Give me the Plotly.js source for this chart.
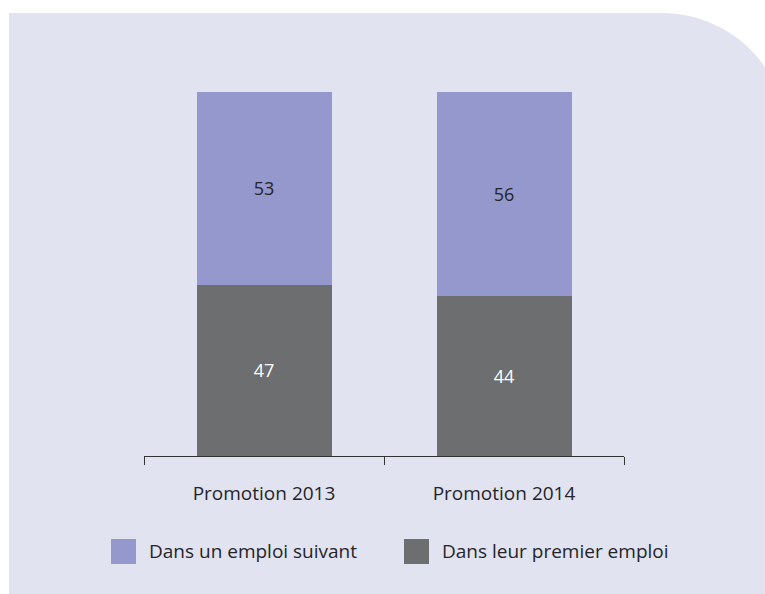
<!DOCTYPE html>
<html>
<head>
<meta charset="utf-8">
<script src="https://cdn.plot.ly/plotly-3.0.1.min.js"></script>
<style>html,body{margin:0;padding:0;background:#fff;}#chart{width:765px;height:594px;}</style>
</head>
<body>
<div id="chart"></div>
<script>
// Data
const categories = ["Promotion 2013", "Promotion 2014"];
const seriesNames = ["Dans leur premier emploi", "Dans un emploi suivant"];
const premierEmploi = [47, 44];
const emploiSuivant = [53, 56];

const W = 765, H = 594;
const M = {l: 144, r: 141, t: 92, b: 138};
const PW = W - M.l - M.r, PH = H - M.t - M.b;
const px = x => (x - M.l) / PW;
const py = y => (H - M.b - y) / PH;

const FONT = "Open Sans";
const FS = 19;
const TXT = "#252528";
const C_GREY = "#6d6e70";
const C_LAV = "#9598cc";
const BG = "#e2e3f1";

const traces = [
  {type: "bar", x: categories, y: premierEmploi, name: seriesNames[0],
   marker: {color: C_GREY}, text: premierEmploi.map(String), textposition: "inside",
   insidetextanchor: "middle", textfont: {family: FONT, size: 18, color: "#ffffff"},
   hoverinfo: "skip"},
  {type: "bar", x: categories, y: emploiSuivant, name: seriesNames[1],
   marker: {color: C_LAV}, text: emploiSuivant.map(String), textposition: "inside",
   insidetextanchor: "middle", textfont: {family: FONT, size: 18, color: TXT},
   hoverinfo: "skip"}
];

// background panel with rounded top-right corner
const cr = 125, ccx = 662, pTop = 13, pLeft = 9, pRight = ccx + cr, kk = 0.5523 * cr;
const panelPath =
  `M ${px(pLeft)},${py(H + 5)} L ${px(pLeft)},${py(pTop)} L ${px(ccx)},${py(pTop)} ` +
  `C ${px(ccx + kk)},${py(pTop)} ${px(pRight)},${py(pTop + cr - kk)} ${px(pRight)},${py(pTop + cr)} ` +
  `L ${px(pRight)},${py(H + 5)} Z`;

const shapes = [
  {type: "path", xref: "paper", yref: "paper", path: panelPath, fillcolor: BG,
   line: {width: 0}, layer: "below"}
];

// manual legend
const legendItems = [
  {name: seriesNames[1], color: C_LAV, sq: 111, tx: 147},
  {name: seriesNames[0], color: C_GREY, sq: 404, tx: 440}
];
const annotations = [];
legendItems.forEach(it => {
  shapes.push({type: "rect", xref: "paper", yref: "paper",
    x0: px(it.sq), x1: px(it.sq + 25), y0: py(564), y1: py(539),
    fillcolor: it.color, line: {width: 0}, layer: "above"});
  annotations.push({xref: "paper", yref: "paper", x: px(it.tx), y: py(551),
    xanchor: "left", yanchor: "middle", showarrow: false, text: it.name,
    font: {family: FONT, size: FS, color: TXT}});
});

const layout = {
  width: W, height: H,
  margin: M,
  paper_bgcolor: "#ffffff",
  plot_bgcolor: "rgba(0,0,0,0)",
  barmode: "stack",
  bargap: 0.4375,
  showlegend: false,
  font: {family: FONT, size: FS, color: TXT},
  xaxis: {
    type: "category", range: [-0.5, 1.5], tickson: "boundaries",
    ticks: "outside", ticklen: 8, tickwidth: 1, tickcolor: "#333",
    showline: true, linecolor: "#333", linewidth: 1,
    showgrid: false, zeroline: false, fixedrange: true,
    tickfont: {family: FONT, size: FS, color: TXT}, ticklabelstandoff: 20
  },
  yaxis: {range: [0, 100], visible: false, showgrid: false, zeroline: false, fixedrange: true},
  shapes: shapes,
  annotations: annotations
};

Plotly.newPlot("chart", traces, layout, {displayModeBar: false, staticPlot: true});
</script>
</body>
</html>
